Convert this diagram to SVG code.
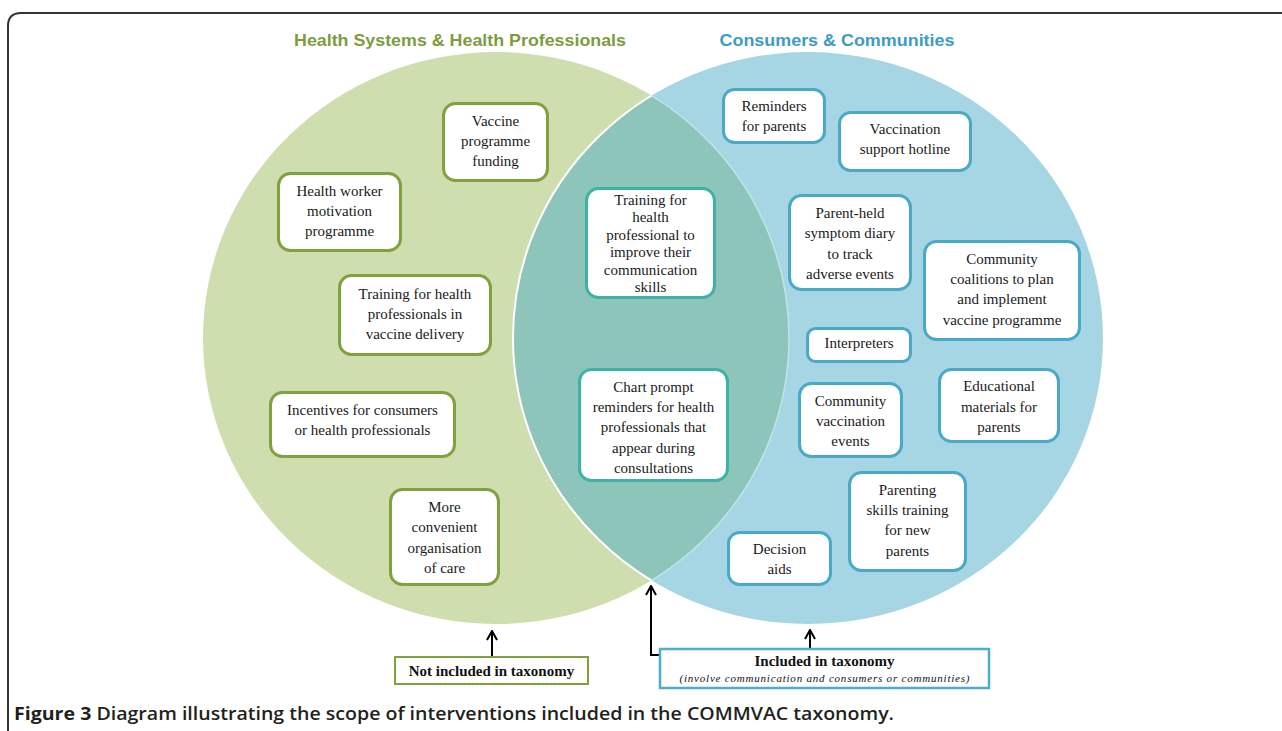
<svg xmlns="http://www.w3.org/2000/svg" width="1282" height="731" viewBox="0 0 1282 731">
<style>
  .bx { fill: #ffffff; stroke-width: 3; }
  .g { stroke: #7FA23F; }
  .t { stroke: #3DB3A5; }
  .b { stroke: #4BA9C8; }
  .lbl { font-family: "Liberation Serif", "Times New Roman", serif; font-size: 15px; fill: #1a1a1a; text-anchor: middle; }
  .hdr { font-family: "Liberation Sans", Arial, sans-serif; font-size: 17px; font-weight: bold; text-anchor: middle; }
  .conn { stroke: #000; stroke-width: 2; fill: none; marker-end: url(#arr); }
  .key { font-family: "Liberation Serif", "Times New Roman", serif; fill: #111; text-anchor: middle; }
  .cap { font-family: "Open Sans", "Noto Sans", sans-serif; font-size: 18px; fill: #231f20; }
</style>
<defs>
  <marker id="arr" markerUnits="userSpaceOnUse" markerWidth="12" markerHeight="12" viewBox="0 0 12 12" refX="11" refY="6" orient="auto">
    <path d="M2,1 L11,6 L2,11" stroke="#000" stroke-width="2" fill="none"/>
  </marker>
  <clipPath id="clipL"><ellipse cx="496" cy="338" rx="293" ry="286"/></clipPath>
  <clipPath id="clipR"><ellipse cx="808" cy="338" rx="295" ry="286"/></clipPath>
</defs>
<rect x="0" y="0" width="1282" height="731" fill="#ffffff"/>
<path d="M8,731 V26 Q8,13 21,13 H1282" fill="none" stroke="#333" stroke-width="2"/>

<g id="venn">
  <ellipse cx="496" cy="338" rx="293" ry="286" fill="#CFDEAE"/>
  <ellipse cx="808" cy="338" rx="295" ry="286" fill="#A6D6E3"/>
  <ellipse cx="808" cy="338" rx="295" ry="286" fill="#8DC5BB" clip-path="url(#clipL)"/>
  <ellipse cx="808" cy="338" rx="295" ry="286" fill="none" stroke="#ffffff" stroke-width="2" clip-path="url(#clipL)"/>
  <ellipse cx="496" cy="338" rx="293" ry="286" fill="none" stroke="#C3E3E8" stroke-width="1.5" clip-path="url(#clipR)"/>
</g>

<text class="hdr" x="460" y="46" fill="#7D9C3F" textLength="332" lengthAdjust="spacingAndGlyphs">Health Systems &amp; Health Professionals</text>
<text class="hdr" x="837" y="46" fill="#3C9CC3" textLength="235" lengthAdjust="spacingAndGlyphs">Consumers &amp; Communities</text>

<g id="funding">
  <rect class="bx g" x="443.5" y="103.5" width="104" height="77" rx="12"/>
  <text class="lbl" x="495.5" y="126">Vaccine</text>
  <text class="lbl" x="495.5" y="146">programme</text>
  <text class="lbl" x="495.5" y="166">funding</text>
</g>
<g id="motivation">
  <rect class="bx g" x="278.5" y="173.5" width="122" height="77" rx="12"/>
  <text class="lbl" x="339.5" y="196">Health worker</text>
  <text class="lbl" x="339.5" y="216">motivation</text>
  <text class="lbl" x="339.5" y="236">programme</text>
</g>
<g id="training-delivery">
  <rect class="bx g" x="339.5" y="275.5" width="151" height="79" rx="12"/>
  <text class="lbl" x="415" y="299">Training for health</text>
  <text class="lbl" x="415" y="319">professionals in</text>
  <text class="lbl" x="415" y="339">vaccine delivery</text>
</g>
<g id="incentives">
  <rect class="bx g" x="270.5" y="392.5" width="184" height="64" rx="12"/>
  <text class="lbl" x="362.5" y="415">Incentives for consumers</text>
  <text class="lbl" x="362.5" y="435">or health professionals</text>
</g>
<g id="convenient">
  <rect class="bx g" x="390.5" y="489.5" width="108" height="95" rx="12"/>
  <text class="lbl" x="444.5" y="512">More</text>
  <text class="lbl" x="444.5" y="532">convenient</text>
  <text class="lbl" x="444.5" y="553">organisation</text>
  <text class="lbl" x="444.5" y="573">of care</text>
</g>

<g id="communication-skills">
  <rect class="bx t" x="586.5" y="188.5" width="128" height="109" rx="12"/>
  <text class="lbl" x="650.5" y="205">Training for</text>
  <text class="lbl" x="650.5" y="222">health</text>
  <text class="lbl" x="650.5" y="240">professional to</text>
  <text class="lbl" x="650.5" y="257">improve their</text>
  <text class="lbl" x="650.5" y="275">communication</text>
  <text class="lbl" x="650.5" y="292">skills</text>
</g>
<g id="chart-prompt">
  <rect class="bx t" x="579.5" y="369.5" width="148" height="111" rx="12"/>
  <text class="lbl" x="653.5" y="392">Chart prompt</text>
  <text class="lbl" x="653.5" y="412">reminders for health</text>
  <text class="lbl" x="653.5" y="432">professionals that</text>
  <text class="lbl" x="653.5" y="453">appear during</text>
  <text class="lbl" x="653.5" y="473">consultations</text>
</g>

<g id="reminders">
  <rect class="bx b" x="723.5" y="89.5" width="101" height="53" rx="11"/>
  <text class="lbl" x="774" y="111">Reminders</text>
  <text class="lbl" x="774" y="131">for parents</text>
</g>
<g id="hotline">
  <rect class="bx b" x="839.5" y="112.5" width="131" height="58" rx="11"/>
  <text class="lbl" x="905" y="134">Vaccination</text>
  <text class="lbl" x="905" y="154">support hotline</text>
</g>
<g id="diary">
  <rect class="bx b" x="789.5" y="195.5" width="121" height="94" rx="12"/>
  <text class="lbl" x="850" y="218">Parent-held</text>
  <text class="lbl" x="850" y="238">symptom diary</text>
  <text class="lbl" x="850" y="259">to track</text>
  <text class="lbl" x="850" y="279">adverse events</text>
</g>
<g id="coalitions">
  <rect class="bx b" x="924.5" y="241.5" width="155" height="98" rx="12"/>
  <text class="lbl" x="1002" y="264">Community</text>
  <text class="lbl" x="1002" y="284">coalitions to plan</text>
  <text class="lbl" x="1002" y="304">and implement</text>
  <text class="lbl" x="1002" y="325">vaccine programme</text>
</g>
<g id="interpreters">
  <rect class="bx b" x="807.5" y="328.5" width="103" height="33" rx="8"/>
  <text class="lbl" x="859" y="348">Interpreters</text>
</g>
<g id="community-events">
  <rect class="bx b" x="799.5" y="383.5" width="102" height="73" rx="12"/>
  <text class="lbl" x="850.5" y="406">Community</text>
  <text class="lbl" x="850.5" y="426">vaccination</text>
  <text class="lbl" x="850.5" y="446">events</text>
</g>
<g id="educational">
  <rect class="bx b" x="939.5" y="369.5" width="119" height="72" rx="12"/>
  <text class="lbl" x="999" y="391">Educational</text>
  <text class="lbl" x="999" y="412">materials for</text>
  <text class="lbl" x="999" y="432">parents</text>
</g>
<g id="parenting">
  <rect class="bx b" x="849.5" y="472.5" width="116" height="98" rx="12"/>
  <text class="lbl" x="907.5" y="495">Parenting</text>
  <text class="lbl" x="907.5" y="515">skills training</text>
  <text class="lbl" x="907.5" y="535">for new</text>
  <text class="lbl" x="907.5" y="556">parents</text>
</g>
<g id="decision-aids">
  <rect class="bx b" x="728.5" y="532.5" width="102" height="52" rx="11"/>
  <text class="lbl" x="779.5" y="554">Decision</text>
  <text class="lbl" x="779.5" y="574">aids</text>
</g>

<g id="connectors">
  <line class="conn" x1="492" y1="656" x2="492" y2="631"/>
  <line class="conn" x1="810" y1="648" x2="810" y2="630"/>
  <polyline class="conn" points="659,655 651,655 651,586"/>
</g>

<g id="not-included">
  <rect x="395" y="657" width="193" height="27" fill="#ffffff" stroke="#7FA23F" stroke-width="2"/>
  <text class="key" x="491.5" y="676" font-size="15" font-weight="bold">Not included in taxonomy</text>
</g>
<g id="included">
  <rect x="660" y="649" width="329" height="39" fill="#ffffff" stroke="#4BAFCB" stroke-width="2.5"/>
  <text class="key" x="824.5" y="666" font-size="15" font-weight="bold">Included in taxonomy</text>
  <text class="key" x="824.5" y="682" font-size="11" font-style="italic" textLength="290" lengthAdjust="spacing">(involve communication and consumers or communities)</text>
</g>

<text class="cap" x="14" y="720" textLength="880" lengthAdjust="spacingAndGlyphs"><tspan font-weight="700">Figure 3</tspan><tspan font-weight="600"> Diagram illustrating the scope of interventions included in the COMMVAC taxonomy.</tspan></text>
</svg>
